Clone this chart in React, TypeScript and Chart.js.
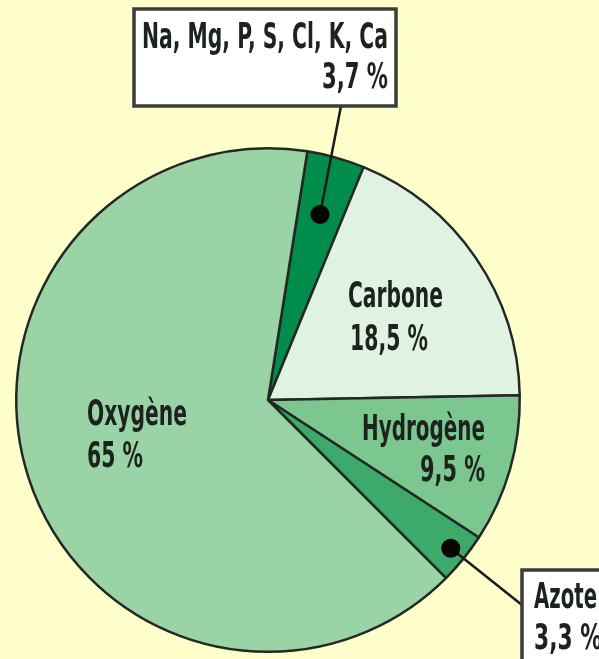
import React, { useEffect, useRef } from "react";
import { Chart, registerables } from "chart.js";

Chart.register(...registerables);

// ---- data ----
const CATEGORIES = ["Na, Mg, P, S, Cl, K, Ca", "Carbone", "Hydrogène", "Azote", "Oxygène"];
const VALUES = [3.7, 18.5, 9.5, 3.3, 65];
const COLORS = ["#008C4A", "#E0F2E2", "#7CC68F", "#3DAA6A", "#9AD4A6"];
const VALUE_LABELS = VALUES.map((v) => String(v).replace(".", ",") + " %");

// ---- layout of annotations (pixels in the canvas) ----
type Line = { x: number; y: number; w: number; align: "left" | "right" };
type Layout = {
  l1: Line;
  l2: Line;
  box?: { x: number; y: number; w: number; h: number };
  leader?: { ax: number; ay: number; frac: number };
};
const LAYOUT: Layout[] = [
  {
    l1: { x: 142, y: 48, w: 246, align: "left" },
    l2: { x: 388, y: 88, w: 66, align: "right" },
    box: { x: 134, y: 9, w: 262, h: 97 },
    leader: { ax: 341, ay: 106, frac: 0.765 },
  },
  {
    l1: { x: 348, y: 307, w: 95, align: "left" },
    l2: { x: 350, y: 350, w: 78, align: "left" },
  },
  {
    l1: { x: 362, y: 440, w: 123, align: "left" },
    l2: { x: 485, y: 481, w: 65, align: "right" },
  },
  {
    l1: { x: 534, y: 608, w: 63, align: "left" },
    l2: { x: 534, y: 649, w: 68, align: "left" },
    box: { x: 522, y: 570, w: 100, h: 120 },
    leader: { ax: 522, ay: 605, frac: 0.935 },
  },
  {
    l1: { x: 87, y: 425, w: 100, align: "left" },
    l2: { x: 87, y: 467, w: 56, align: "left" },
  },
];

const FONT = 'bold 36px "Liberation Sans Narrow", "DejaVu Sans Condensed", "Arial Narrow", sans-serif';

function drawFitted(ctx: CanvasRenderingContext2D, text: string, ln: Line) {
  ctx.save();
  ctx.font = FONT;
  ctx.textBaseline = "alphabetic";
  const m = ctx.measureText(text).width || 1;
  const s = ln.w / m;
  const left = ln.align === "left" ? ln.x : ln.x - ln.w;
  ctx.translate(left, ln.y);
  ctx.scale(s, 1);
  ctx.textAlign = "left";
  ctx.fillStyle = "#1c221e";
  ctx.fillText(text, 0, 0);
  ctx.restore();
}

const annotations = {
  id: "annotations",
  afterDraw(chart: any) {
    const ctx: CanvasRenderingContext2D = chart.ctx;
    const meta = chart.getDatasetMeta(0);
    meta.data.forEach((arc: any, i: number) => {
      const lay = LAYOUT[i];
      if (!lay) return;
      const p = arc.getProps(["x", "y", "startAngle", "endAngle", "outerRadius"], true);
      if (lay.leader) {
        const mid = (p.startAngle + p.endAngle) / 2;
        const r = p.outerRadius * lay.leader.frac;
        const dx = p.x + Math.cos(mid) * r;
        const dy = p.y + Math.sin(mid) * r;
        ctx.save();
        ctx.strokeStyle = "#1a1a1a";
        ctx.lineWidth = 2.5;
        ctx.beginPath();
        ctx.moveTo(dx, dy);
        ctx.lineTo(lay.leader.ax, lay.leader.ay);
        ctx.stroke();
        ctx.fillStyle = "#050505";
        ctx.beginPath();
        ctx.arc(dx, dy, 9.5, 0, Math.PI * 2);
        ctx.fill();
        ctx.restore();
      }
      if (lay.box) {
        ctx.save();
        ctx.fillStyle = "#FFFFFF";
        ctx.fillRect(lay.box.x, lay.box.y, lay.box.w, lay.box.h);
        ctx.strokeStyle = "#3a3d3a";
        ctx.lineWidth = 3.5;
        ctx.strokeRect(lay.box.x, lay.box.y, lay.box.w, lay.box.h);
        ctx.restore();
      }
      drawFitted(ctx, CATEGORIES[i], lay.l1);
      drawFitted(ctx, VALUE_LABELS[i], lay.l2);
    });
  },
};

export default function App() {
  const ref = useRef<HTMLCanvasElement>(null);
  useEffect(() => {
    if (!ref.current) return;
    const chart = new Chart(ref.current, {
      type: "pie",
      data: {
        labels: CATEGORIES,
        datasets: [
          {
            data: VALUES,
            backgroundColor: COLORS,
            borderColor: "#232824",
            borderWidth: 2.5,
          },
        ],
      },
      options: {
        responsive: false,
        animation: false,
        rotation: 9,
        layout: { padding: { left: 15, top: 147, right: 78, bottom: 6 } },
        plugins: {
          legend: { display: false },
          tooltip: { enabled: false },
        },
      },
      plugins: [annotations],
    });
    return () => chart.destroy();
  }, []);
  return (
    <div
      style={{
        position: "fixed",
        left: 0,
        top: 0,
        width: 599,
        height: 659,
        background: "#FFFFCC",
        overflow: "hidden",
      }}
    >
      <canvas ref={ref} width={599} height={659} style={{ display: "block" }} />
    </div>
  );
}
